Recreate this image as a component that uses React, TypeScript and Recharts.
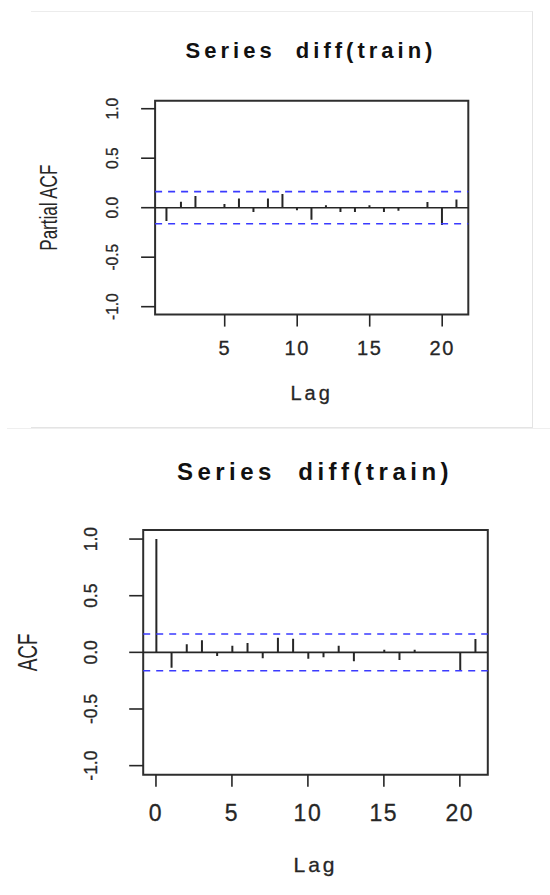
import { ComposedChart, Bar, XAxis, YAxis, ReferenceLine, ReferenceArea, Label } from 'recharts'

// PACF of diff(train), lags 1..21
const pacfLags = [1, 2, 3, 4, 5, 6, 7, 8, 9, 10, 11, 12, 13, 14, 15, 16, 17, 18, 19, 20, 21]
const pacfValues = [-0.135, 0.061, 0.118, 0.004, 0.037, 0.094, -0.044, 0.094, 0.138, -0.027, -0.121, 0.024, -0.044, -0.044, 0.024, -0.044, -0.03, 0.004, 0.057, -0.175, 0.084]

// ACF of diff(train), lags 0..21
const acfLags = [0, 1, 2, 3, 4, 5, 6, 7, 8, 9, 10, 11, 12, 13, 14, 15, 16, 17, 18, 19, 20, 21]
const acfValues = [1.0, -0.135, 0.071, 0.106, -0.032, 0.059, 0.082, -0.053, 0.129, 0.121, -0.056, -0.044, 0.059, -0.079, 0.003, 0.024, -0.068, 0.024, -0.004, 0.003, -0.165, 0.118]

const pacfXTicks = [5, 10, 15, 20]
const acfXTicks = [0, 5, 10, 15, 20]
const yTicks = [-1, -0.5, 0, 0.5, 1]
const ciBound = 0.162 // 1.96/sqrt(n)

const FONT = '"Liberation Sans", Arial, sans-serif'
const INK = '#262626'
const BLUE = '#3a3aff'

const pacfData = pacfLags.map((lag, i) => ({ lag, value: pacfValues[i] }))
const acfData = acfLags.map((lag, i) => ({ lag, value: acfValues[i] }))

// R-style rotated y tick labels
const makeYTick = (fontSize: number) => (props: any) => {
  const { x, y, payload } = props
  return (
    <text transform={`translate(${x},${y}) rotate(-90) scale(1,1.1)`} textAnchor="middle"
      fontFamily={FONT} fontSize={fontSize} fill={INK} stroke={INK} strokeWidth={0.3}>
      {payload.value.toFixed(1)}
    </text>
  )
}

const makeXTick = (fontSize: number) => (props: any) => {
  const { x, y, payload } = props
  return (
    <text x={x} y={y} dy={fontSize * 0.716} textAnchor="middle" fontFamily={FONT}
      fontSize={fontSize} letterSpacing={1.5} fill={INK} stroke={INK} strokeWidth={0.3}>
      {payload.value}
    </text>
  )
}

interface PanelProps {
  data: Array<{ lag: number; value: number }>
  xDomain: [number, number]
  xTicks: number[]
  yLabel: string
  width: number
  height: number
  margin: { top: number; right: number; left: number; bottom: number }
  yTickFont: number
  yTickMargin: number
  xTickFont: number
  xTickMargin: number
  yLabelFont: number
  yLabelStretch: number
  yLabelBaseline: number
  lagFont: number
  lagBaseline: number
}

function CorrPanel(p: PanelProps) {
  return (
    <ComposedChart width={p.width} height={p.height} data={p.data} margin={p.margin}>
      <XAxis dataKey="lag" type="number" domain={p.xDomain} ticks={p.xTicks} allowDataOverflow
        axisLine={false} tickSize={12} tickMargin={p.xTickMargin} tickLine={{ stroke: INK, strokeWidth: 1.6 }}
        tick={makeXTick(p.xTickFont)} height={60} interval={0}>
        <Label content={(lp: any) => {
          const vb = lp.viewBox
          return (
            <text x={vb.x + vb.width / 2} y={vb.y + p.lagBaseline} textAnchor="middle" fontFamily={FONT}
              fontSize={p.lagFont} letterSpacing={3} fill={INK} stroke={INK} strokeWidth={0.3}>Lag</text>
          )
        }} />
      </XAxis>
      <YAxis type="number" domain={[-1.08, 1.08]} ticks={yTicks} allowDataOverflow width={80}
        axisLine={false} tickSize={14} tickMargin={p.yTickMargin} tickLine={{ stroke: INK, strokeWidth: 1.6 }}
        tick={makeYTick(p.yTickFont)} interval={0}>
        <Label content={(lp: any) => {
          const vb = lp.viewBox
          return (
            <text transform={`translate(${p.yLabelBaseline},${vb.y + vb.height / 2}) rotate(-90) scale(1,${p.yLabelStretch})`}
              textAnchor="middle" fontFamily={FONT} fontSize={p.yLabelFont} fill={INK}>{p.yLabel}</text>
          )
        }} />
      </YAxis>
      <ReferenceArea x1={p.xDomain[0]} x2={p.xDomain[1]} y1={-1.08} y2={1.08} fill="none" fillOpacity={0}
        stroke="#2e2e2e" strokeWidth={2} ifOverflow="visible" />
      <ReferenceLine y={0} stroke={INK} strokeWidth={1.6} />
      <ReferenceLine y={ciBound} stroke={BLUE} strokeWidth={1.6} strokeDasharray="7 6" />
      <ReferenceLine y={-ciBound} stroke={BLUE} strokeWidth={1.6} strokeDasharray="7 6" />
      <Bar dataKey="value" barSize={2} fill={INK} isAnimationActive={false} />
    </ComposedChart>
  )
}

export default function App() {
  return (
    <div style={{ position: 'absolute', left: 0, top: 0, width: 550, height: 895, background: '#fff', overflow: 'hidden' }}>
      {/* light screenshot frame around the upper figure */}
      <div style={{ position: 'absolute', left: 31, top: 11, width: 501, height: 415, borderTop: '1px solid #ececec', borderRight: '1px solid #e4e4e4', borderBottom: '1px solid #e4e4e4' }} />
      <div style={{ position: 'absolute', left: 7, top: 428, width: 543, height: 0, borderTop: '1px solid #efefef' }} />

      <div style={{ position: 'absolute', left: 0, top: 0 }}>
        <CorrPanel data={pacfData} xDomain={[0.2, 21.8]} xTicks={pacfXTicks} yLabel="Partial ACF"
          width={550} height={440} margin={{ top: 100.8, right: 81.7, left: 75.1, bottom: 65.4 }}
          yTickFont={15.5} yTickMargin={22.8} xTickFont={20} xTickMargin={14}
          yLabelFont={17} yLabelStretch={1.4} yLabelBaseline={56.7} lagFont={20} lagBaseline={85.4} />
      </div>
      <div style={{ position: 'absolute', left: 0, top: 440 }}>
        <CorrPanel data={acfData} xDomain={[-0.84, 21.84]} xTicks={acfXTicks} yLabel="ACF"
          width={550} height={455} margin={{ top: 90, right: 62.2, left: 63.2, bottom: 60.3 }}
          yTickFont={17.5} yTickMargin={32.5} xTickFont={23} xTickMargin={18}
          yLabelFont={19} yLabelStretch={1.5} yLabelBaseline={37.3} lagFont={21} lagBaseline={97} />
      </div>

      <svg width={550} height={895} style={{ position: 'absolute', left: 0, top: 0, pointerEvents: 'none' }}>
        <text x={311} y={58} textAnchor="middle" fontFamily={FONT} fontWeight="bold" fontSize={22}
          letterSpacing={4} fill="#111" style={{ whiteSpace: 'pre' }}>Series  diff(train)</text>
        <text x={315} y={480} textAnchor="middle" fontFamily={FONT} fontWeight="bold" fontSize={24}
          letterSpacing={4.5} fill="#111" style={{ whiteSpace: 'pre' }}>Series  diff(train)</text>
      </svg>
    </div>
  )
}
